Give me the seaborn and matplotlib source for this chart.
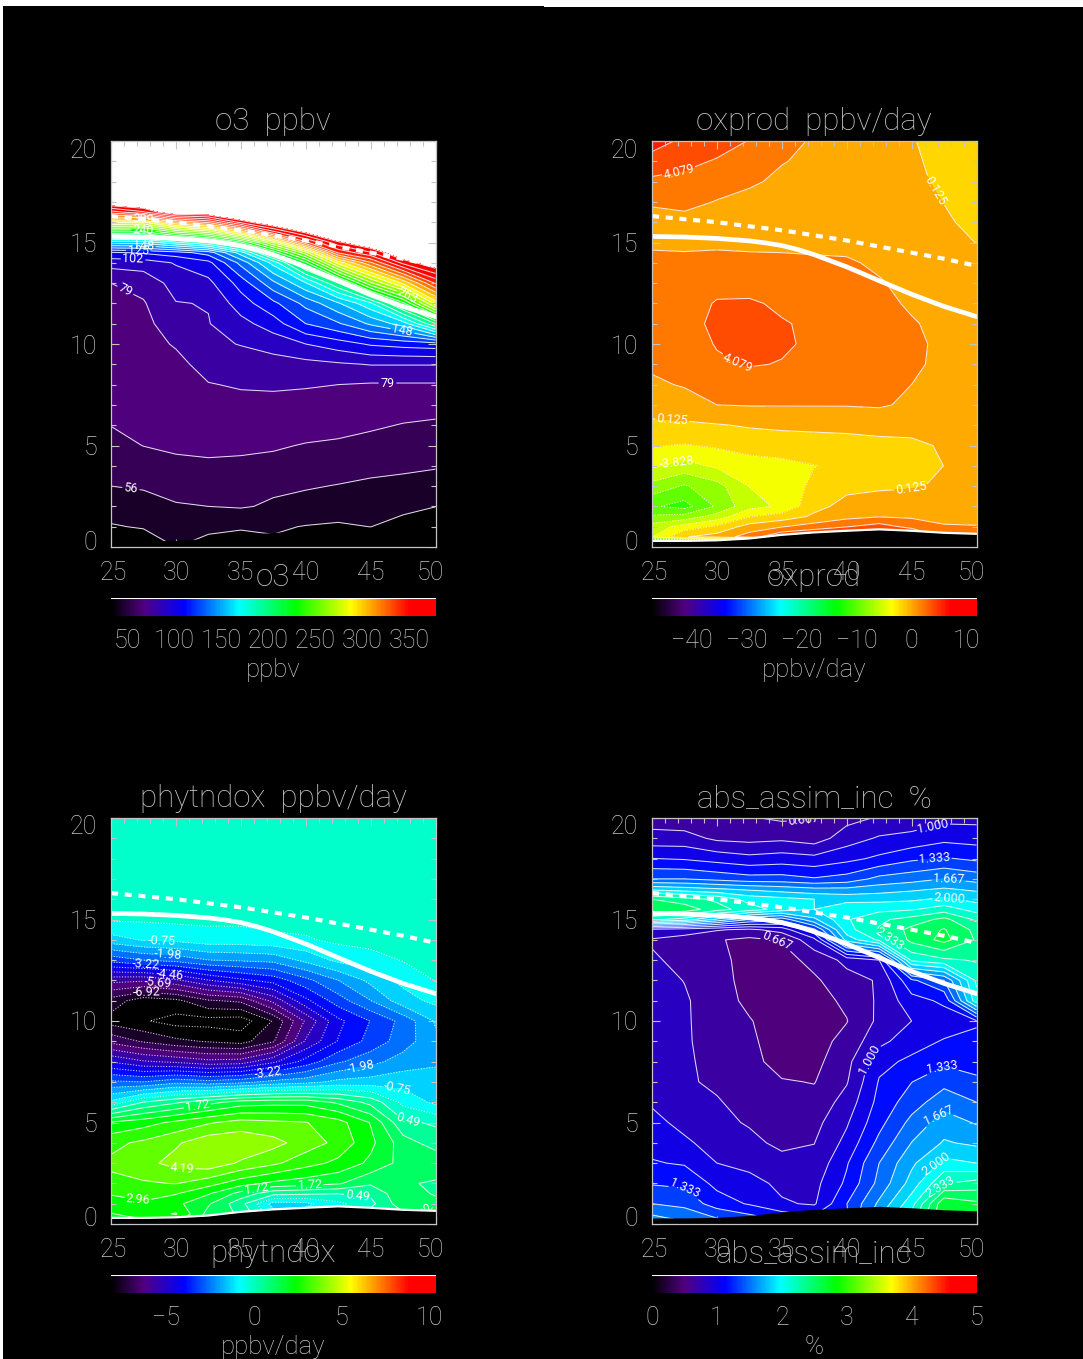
import numpy as np
import matplotlib
matplotlib.use("Agg")
import matplotlib.pyplot as plt
from matplotlib.colors import LinearSegmentedColormap
from matplotlib.ticker import MultipleLocator
from matplotlib.transforms import ScaledTranslation
import seaborn as sns

W, H = 1083, 1359
GREY = "#c4c4c4"

lats = [25, 27.5, 30, 32.5, 35, 37.5, 40, 42.5, 45, 47.5, 50]
terrain = [0.3, 0.3, 0.33, 0.42, 0.6, 0.72, 0.8, 0.87, 0.8, 0.7, 0.65]
line_lats = [25, 27.5, 30, 32.5, 33.75, 35, 36.25, 37.5, 40, 42.5, 45, 47.5, 50]
tropopause = [15.3, 15.27, 15.2, 15.08, 14.98, 14.85, 14.65, 14.4, 13.8, 13.12, 12.45, 11.85, 11.35]
tropopause_o3 = [16.3, 16.15, 16.0, 15.8, 15.7, 15.6, 15.48, 15.35, 15.1, 14.8, 14.5, 14.2, 13.85]

# o3, one profile per latitude
o3_heights = [0, 1, 2, 3, 4, 5, 6, 7, 8, 9, 10, 11, 12, 13, 14, 14.5, 15, 15.5, 16, 16.5, 17, 18, 20]
o3_values = [
    [38, 43.5, 50, 56, 60, 64, 67.7, 70, 72, 73, 74, 75, 76, 79, 95, 112, 165, 225, 290, 350, 395, 450, 520],
    [36, 45.5, 52, 57, 62, 67.7, 70, 72, 73, 74, 75, 76, 78, 83, 96, 115, 165, 225, 285, 365, 400, 450, 520],
    [44.6, 47.6, 55, 60, 65.5, 69, 71, 72.5, 74, 76, 80, 85, 90, 95, 103, 120, 180, 250, 320, 395, 430, 470, 530],
    [42, 46, 56, 61, 66.5, 69, 72, 75, 78.5, 83, 88, 90, 91, 99, 110, 130, 195, 265, 335, 395, 425, 465, 530],
    [42, 45, 57, 61, 66, 69, 72, 76, 80, 85, 91, 98, 108, 118, 140, 165, 225, 300, 370, 410, 440, 480, 530],
    [42, 46, 54.5, 58, 65, 68.5, 72, 76, 80.5, 86, 95, 108, 122, 145, 175, 220, 275, 350, 395, 430, 460, 490, 530],
    [40, 44, 52, 57, 63, 67, 71, 75, 80, 87, 102, 125, 140, 170, 225, 270, 340, 380, 420, 450, 470, 500, 540],
    [38, 43, 50, 55.5, 61, 66, 70.5, 75, 79, 89, 108, 135, 158, 205, 290, 345, 375, 410, 440, 460, 480, 510, 540],
    [35, 44.6, 50, 54, 59, 64, 69, 74, 78, 91, 115, 150, 180, 260, 330, 365, 395, 425, 450, 470, 490, 510, 540],
    [36, 41, 47, 53, 58, 63, 67, 72, 78, 91, 118, 165, 225, 300, 370, 395, 420, 440, 460, 480, 495, 515, 540],
    [36, 40, 44.6, 51, 57, 62, 66, 71, 78, 91, 120, 205, 290, 345, 390, 410, 430, 445, 465, 480, 495, 515, 540],
]

oxprod_heights = [0, 0.5, 1, 1.5, 2, 3, 4, 5, 6, 7, 8, 9, 10, 11, 12, 13, 14, 15, 16, 17, 18, 19, 20]
oxprod_values = [
    [-30, -4, -5, -7.5, -9.5, -6.5, -3.5, -1.7, -0.2, 0.8, 1.7, 2.5, 2.9, 3, 3.1, 3.2, 2.6, 1.8, 1.5, 2.3, 3.7, 5.2, 7],
    [-30, 0, -3, -7, -10.5, -8, -4.5, -2, -0.1, 1, 2.3, 2.8, 3.2, 3.4, 3.4, 3, 2.6, 1.7, 1.4, 2.7, 3.5, 4.6, 5.6],
    [-30, 1, -1.5, -5, -7.5, -6.5, -3.5, -1.6, 0, 2.1, 3, 3.8, 4.2, 4.5, 4.2, 3.6, 2.8, 1.7, 1.2, 2, 3, 3.9, 5],
    [-30, 3, 1, -2, -4.5, -3.8, -2.8, -1, 0.3, 2.2, 3.2, 4.2, 4.8, 4.9, 4.3, 3.4, 2.7, 1.6, 1, 1.5, 2.4, 3.1, 4],
    [-30, 6, 2, -1, -3.5, -2.8, -2.4, -0.9, 0.5, 2.2, 3.2, 4, 4.3, 4.2, 3.8, 3.2, 2.6, 1.6, 1, 1.3, 1.7, 2.2, 2.7],
    [-30, 7, 3, 0.5, -0.5, -1.5, -1.9, -0.8, 0.6, 2.2, 3, 3.6, 3.8, 3.8, 3.6, 3, 2.5, 1.5, 1, 1.2, 1.4, 1.7, 1.9],
    [5, 9, 4, 1.5, 0.8, -0.4, -1.5, -0.7, 0.7, 2.2, 2.9, 3.2, 3.3, 3.3, 3.2, 2.8, 2.4, 1.4, 0.9, 1, 1.2, 1.4, 1.6],
    [5, 9, 5, 2, 1.2, -0.2, -1.2, -0.5, 0.9, 2.3, 2.8, 3, 3, 2.9, 2.7, 2.3, 1.7, 1.1, 0.8, 0.8, 0.9, 1, 1.2],
    [5, 7, 3.5, 1.8, 1, 0, -1, -0.4, 1, 1.8, 2.1, 2.4, 2.5, 2.3, 1.8, 1.4, 1.1, 0.9, 0.7, 0.5, 0.4, 0.3, 0.2],
    [4, 4, 2.3, 1.5, 1.2, 0.3, 0.15, 0.4, 0.9, 1.2, 1.5, 1.7, 1.7, 1.5, 1.2, 1, 0.9, 0.6, 0.3, 0.1, -0.1, -0.2, -0.3],
    [4, 3.5, 2.2, 1.5, 1.2, 1, 0.9, 0.9, 1, 1.2, 1.3, 1.4, 1.3, 1.2, 1, 0.8, 0.5, 0.1, -0.2, -0.4, -0.6, -0.8, -1],
]

phytndox_heights = [0, 0.5, 1, 1.5, 2, 3, 4, 5, 6, 7, 8, 9, 10, 11, 12, 13, 14, 15, 16, 20]
phytndox_values = [
    [1.5, 2.3, 2.7, 3, 3.4, 3.7, 3.4, 2.4, -0.6, -2.5, -4.5, -6.5, -7.8, -7.2, -5.5, -3, -1, -0.05, 0.2, 0.2],
    [2, 2.7, 2.9, 3.1, 3.5, 4, 3.7, 2.7, 0.5, -2.6, -5, -7, -8.1, -7.9, -5.6, -2.6, -0.7, -0.05, 0.2, 0.2],
    [2.3, 3, 2.5, 3, 3.6, 4.4, 4.1, 3.1, 1, -2.2, -5.2, -7.4, -8.4, -7.7, -5.2, -2.4, -0.6, 0, 0.2, 0.2],
    [1.5, 1.5, 1.8, 2.4, 3.2, 4.6, 4.6, 3.5, 1.5, -2.4, -5.5, -7.6, -8.4, -7, -4.5, -2, -0.4, 0, 0.2, 0.2],
    [1, 1, 0.7, 1.5, 2.6, 4.1, 4.7, 3.8, 2, -2.2, -5.4, -7.8, -8.5, -6.8, -4, -1.9, -0.4, 0, 0.2, 0.2],
    [-0.5, -0.5, -1, 0.7, 2.2, 3.7, 4.4, 3.7, 2.1, -1.8, -4.6, -7, -7.5, -5.5, -3.6, -1.8, -0.3, 0.1, 0.2, 0.2],
    [-0.5, -0.5, -0.9, 0.6, 2, 3.2, 3.9, 3.6, 2.1, -1.6, -3.6, -5, -5.6, -4, -2.8, -1.2, -0.2, 0.1, 0.2, 0.2],
    [0.3, 0.3, -0.3, 0.5, 1.8, 2.8, 3.4, 3.2, 1.6, -1.2, -2.7, -3.8, -4, -2.9, -2, -0.6, 0, 0.2, 0.2, 0.2],
    [0.8, 0.8, 0.3, 0.6, 1.2, 2.2, 2.5, 2.3, 0.9, -1.1, -2.2, -3, -3.2, -2, -1.2, -0.4, 0.1, 0.2, 0.2, 0.2],
    [1, 1, 1.5, 1.6, 1.2, 1.5, 1.4, 0.6, -0.3, -1, -1.7, -2.3, -2.4, -1, -0.6, -0.1, 0.1, 0.2, 0.2, 0.2],
    [2.1, 2.1, 1.4, 1, 1, 1.6, 0.8, 0.4, -0.9, -1, -1.5, -1.5, -1.3, -0.6, -0.1, 0.1, 0.2, 0.2, 0.2, 0.2],
]

assim_heights = [0, 1, 2, 3, 4, 5, 6, 7, 8, 9, 10, 11, 12, 13, 14, 14.5, 15, 15.5, 16, 16.5, 17, 18, 19, 20]
assim_values = [
    [1.8, 1.5, 1.32, 1.18, 1.11, 1.05, 0.98, 0.95, 0.93, 0.92, 0.91, 0.9, 0.88, 0.85, 0.82, 0.95, 2.2, 2.6, 2.5, 1.95, 1.5, 1.17, 0.9, 0.75],
    [1.7, 1.45, 1.3, 1.15, 1.03, 0.95, 0.89, 0.86, 0.85, 0.85, 0.85, 0.85, 0.83, 0.8, 0.78, 0.9, 2.1, 2.6, 2.4, 1.9, 1.5, 1.15, 0.9, 0.72],
    [1.6, 1.25, 1.12, 1, 0.93, 0.87, 0.85, 0.8, 0.8, 0.78, 0.77, 0.76, 0.74, 0.72, 0.68, 0.85, 1.8, 2.4, 2.3, 1.85, 1.45, 1.1, 0.8, 0.72],
    [1.5, 1.15, 1.06, 0.95, 0.87, 0.82, 0.76, 0.75, 0.72, 0.7, 0.68, 0.62, 0.6, 0.6, 0.63, 0.8, 1.5, 2.25, 2.1, 1.8, 1.4, 1.05, 0.78, 0.68],
    [1.4, 1.02, 0.96, 0.88, 0.8, 0.78, 0.72, 0.68, 0.6, 0.58, 0.56, 0.55, 0.56, 0.6, 0.68, 0.9, 1.4, 2.1, 2.05, 1.75, 1.4, 1.08, 0.8, 0.64],
    [1.3, 0.98, 0.95, 0.88, 0.83, 0.78, 0.72, 0.66, 0.62, 0.6, 0.59, 0.6, 0.64, 0.72, 0.95, 1.3, 1.8, 2, 2, 1.7, 1.35, 1.05, 0.75, 0.66],
    [1.3, 1.33, 1.2, 1.15, 1.05, 0.98, 0.9, 0.82, 0.78, 0.72, 0.66, 0.7, 0.77, 0.88, 1.9, 2.1, 2.15, 2.1, 1.95, 1.7, 1.4, 1.12, 0.92, 0.78],
    [1.9, 1.7, 1.55, 1.5, 1.38, 1.28, 1.22, 1.18, 1.12, 0.95, 0.87, 0.86, 0.85, 1, 2.2, 2.35, 2.3, 2.12, 1.95, 1.75, 1.55, 1.2, 1.02, 0.85],
    [2.3, 2.1, 1.9, 1.8, 1.67, 1.55, 1.42, 1.33, 1.2, 1.1, 1, 1.1, 1.3, 2.2, 2.55, 2.55, 2.4, 2.15, 1.97, 1.8, 1.6, 1.3, 1.05, 0.9],
    [2.85, 2.8, 2.33, 2.05, 1.85, 1.75, 1.6, 1.45, 1.3, 1.18, 1.08, 1.2, 1.5, 2.3, 2.72, 2.68, 2.55, 2.25, 2.03, 1.85, 1.67, 1.35, 1.12, 0.95],
    [2.7, 2.7, 2.4, 2, 1.8, 1.65, 1.5, 1.35, 1.3, 1.2, 1.15, 2.1, 2.2, 2.35, 2.48, 2.45, 2.3, 2.1, 1.95, 1.8, 1.6, 1.3, 1.1, 0.95],
]

sns.set_theme(style="dark", rc={"figure.facecolor": "black", "savefig.facecolor": "black",
                                "axes.facecolor": "black", "text.color": GREY,
                                "xtick.color": GREY, "ytick.color": GREY})
plt.rcParams["font.family"] = ["Roboto", "DejaVu Sans"]
plt.rcParams["font.weight"] = "light"

cmap = LinearSegmentedColormap.from_list("idl", [
    (0, "#000000"), (0.1, "#500080"), (0.225, "#0000ff"), (0.395, "#00ffff"),
    (0.57, "#00ff00"), (0.74, "#ffff00"), (0.92, "#ff0000"), (1, "#ff0000")], N=256)

fig = plt.figure(figsize=(W / 100, H / 100), dpi=100)
# white scan edge along the top and left of the page
fig.patches.append(plt.Rectangle((0, 1 - 6 / H), 544 / W, 6 / H, transform=fig.transFigure, color="white", lw=0))
fig.patches.append(plt.Rectangle((544 / W, 1 - 7 / H), 539 / W, 7 / H, transform=fig.transFigure, color="white", lw=0))
fig.patches.append(plt.Rectangle((0, 0), 2.5 / W, 1, transform=fig.transFigure, color="white", lw=0))


def px_axes(x0, y0, x1, y1):
    return fig.add_axes([x0 / W, 1 - y1 / H, (x1 - x0) / W, (y1 - y0) / H])


def nudge(label, dx, dy):
    label.set_transform(label.get_transform() + ScaledTranslation(dx / 100, dy / 100, fig.dpi_scale_trans))


def draw_panel(x0, y0, heights, values, start, step, title, name, unit, cb_ticks, fmt, label_at, bg="black"):
    levels = start + step * np.arange(31)
    vmin, vmax = levels[0], levels[-1]
    ax = px_axes(x0, y0, x0 + 324.5, y0 + 406)
    ax.set_facecolor(bg)
    z = np.array(values).T
    # each band takes the colour of its lower level
    band_colors = [cmap(i / 30) for i in range(30)]
    ax.contourf(lats, heights, z, levels=levels, colors=band_colors)
    line_style = dict(colors="white", linewidths=0.75, alpha=0.85, negative_linestyles="dotted")
    ax.contour(lats, heights, z, levels=levels[1::2], **line_style)
    # every other level carries a label
    cs = ax.contour(lats, heights, z, levels=levels[::2], **line_style)
    for t in ax.clabel(cs, manual=label_at, fmt=fmt, fontsize=9, inline_spacing=2):
        t.set_color("white")
        t.set_fontweight("normal")
    ax.fill_between(lats, 0, terrain, color="black", lw=0, zorder=5)
    if name in ("oxprod", "phytndox"):
        ax.plot(lats, terrain, color="white", lw=1.6, zorder=6)
    ax.plot(line_lats, tropopause, color="white", lw=3.4, zorder=7)
    ax.plot(line_lats, tropopause_o3, color="white", lw=3.0, ls=(0, (1.7, 1.6)), zorder=7)

    ax.set_xlim(25, 50)
    ax.set_ylim(0, 20)
    ax.set_xticks([25, 30, 35, 40, 45, 50])
    ax.set_yticks([0, 5, 10, 15, 20])
    ax.xaxis.set_minor_locator(MultipleLocator(1))
    ax.yaxis.set_minor_locator(MultipleLocator(1))
    ax.tick_params(which="major", direction="in", length=6, width=0.8, top=True, right=True,
                   bottom=True, left=True, labelsize=18, pad=10)
    ax.tick_params(which="minor", direction="in", length=3.5, width=0.8, top=True, right=True,
                   bottom=True, left=True)
    ylabs = ax.get_yticklabels()
    nudge(ylabs[0], 0, 7)
    nudge(ylabs[-1], 0, -7)
    xlabs = ax.get_xticklabels()
    nudge(xlabs[0], 2, 0)
    nudge(xlabs[-1], -5, 0)
    for side in ax.spines.values():
        side.set_color(GREY)
        side.set_linewidth(0.9)
        side.set_zorder(8)
    ax.set_axisbelow(False)
    cx = x0 + 162
    fig.text(cx / W, 1 - (y0 - 19.5) / H, title, ha="center", va="center", fontsize=22.5)
    fig.text(cx / W, 1 - (y0 + 436) / H, name, ha="center", va="center", fontsize=22.5)

    # colour strip
    cax = px_axes(x0, y0 + 457, x0 + 324.5, y0 + 475)
    sns.heatmap(np.linspace(0, 1, 256)[None, :], ax=cax, cmap=cmap, vmin=0, vmax=1, cbar=False,
                xticklabels=False, yticklabels=False)
    cax.axhline(0, color="white", lw=1.5)
    for v in cb_ticks:
        t = (v - vmin) / (vmax - vmin)
        fig.text((x0 + t * 325) / W, 1 - (y0 + 500) / H, f"{v}".replace("-", "\u2212"),
                 ha="center", va="center", fontsize=18)
    fig.text(cx / W, 1 - (y0 + 529) / H, unit, ha="center", va="center", fontsize=18.5)


draw_panel(111, 141, o3_heights, o3_values, 33, 11.5, "o3  ppbv", "o3", "ppbv",
           [50, 100, 150, 200, 250, 300, 350], "%.0f",
           [(26.5, 2.7), (26.3, 12.9), (26.7, 14.1), (27.1, 14.5), (27.5, 14.85), (46.3, 8.1),
            (47.5, 10.8), (47.8, 12.3), (27.5, 15.6), (27.5, 16.2)], bg="white")
draw_panel(652, 141, oxprod_heights, oxprod_values, -47.3156, 1.9767, "oxprod  ppbv/day", "oxprod", "ppbv/day",
           [-40, -30, -20, -10, 0, 10], "%.3f",
           [(27, 18.7), (47.2, 17.7), (31.6, 9.1), (26.5, 5.9), (27, 3.9), (45, 2.7)])
draw_panel(111, 818, phytndox_heights, phytndox_values, -8.16, 0.6175, "phytndox  ppbv/day", "phytndox", "ppbv/day",
           [-5, 0, 5, 10], "%.2f",
           [(28.9, 14), (29.4, 13.05), (27.7, 12.9), (29.5, 12.2), (28.6, 12), (27.7, 11.3),
            (37.1, 7.35), (44.2, 7.9), (47.1, 7.2), (47.9, 5.1), (31.7, 5.6), (30.5, 3.2),
            (36.2, 1.85), (27, 0.85), (40.3, 2), (44, 1.4), (47.9, 0.9)])
draw_panel(652, 818, assim_heights, assim_values, 0, 1 / 6, "abs_assim_inc  %", "abs_assim_inc", "%",
           [0, 1, 2, 3, 4, 5], "%.3f",
           [(36.7, 19.8), (46.7, 19.5), (46.7, 18.4), (47.9, 17.2), (47.9, 16.1), (43.5, 14.2),
            (34.8, 14.2), (42.2, 7.9), (47, 8.2), (46.9, 5.5), (46.5, 3.2), (47, 2), (27.7, 1.85)])

fig.savefig("out.png", dpi=100)
